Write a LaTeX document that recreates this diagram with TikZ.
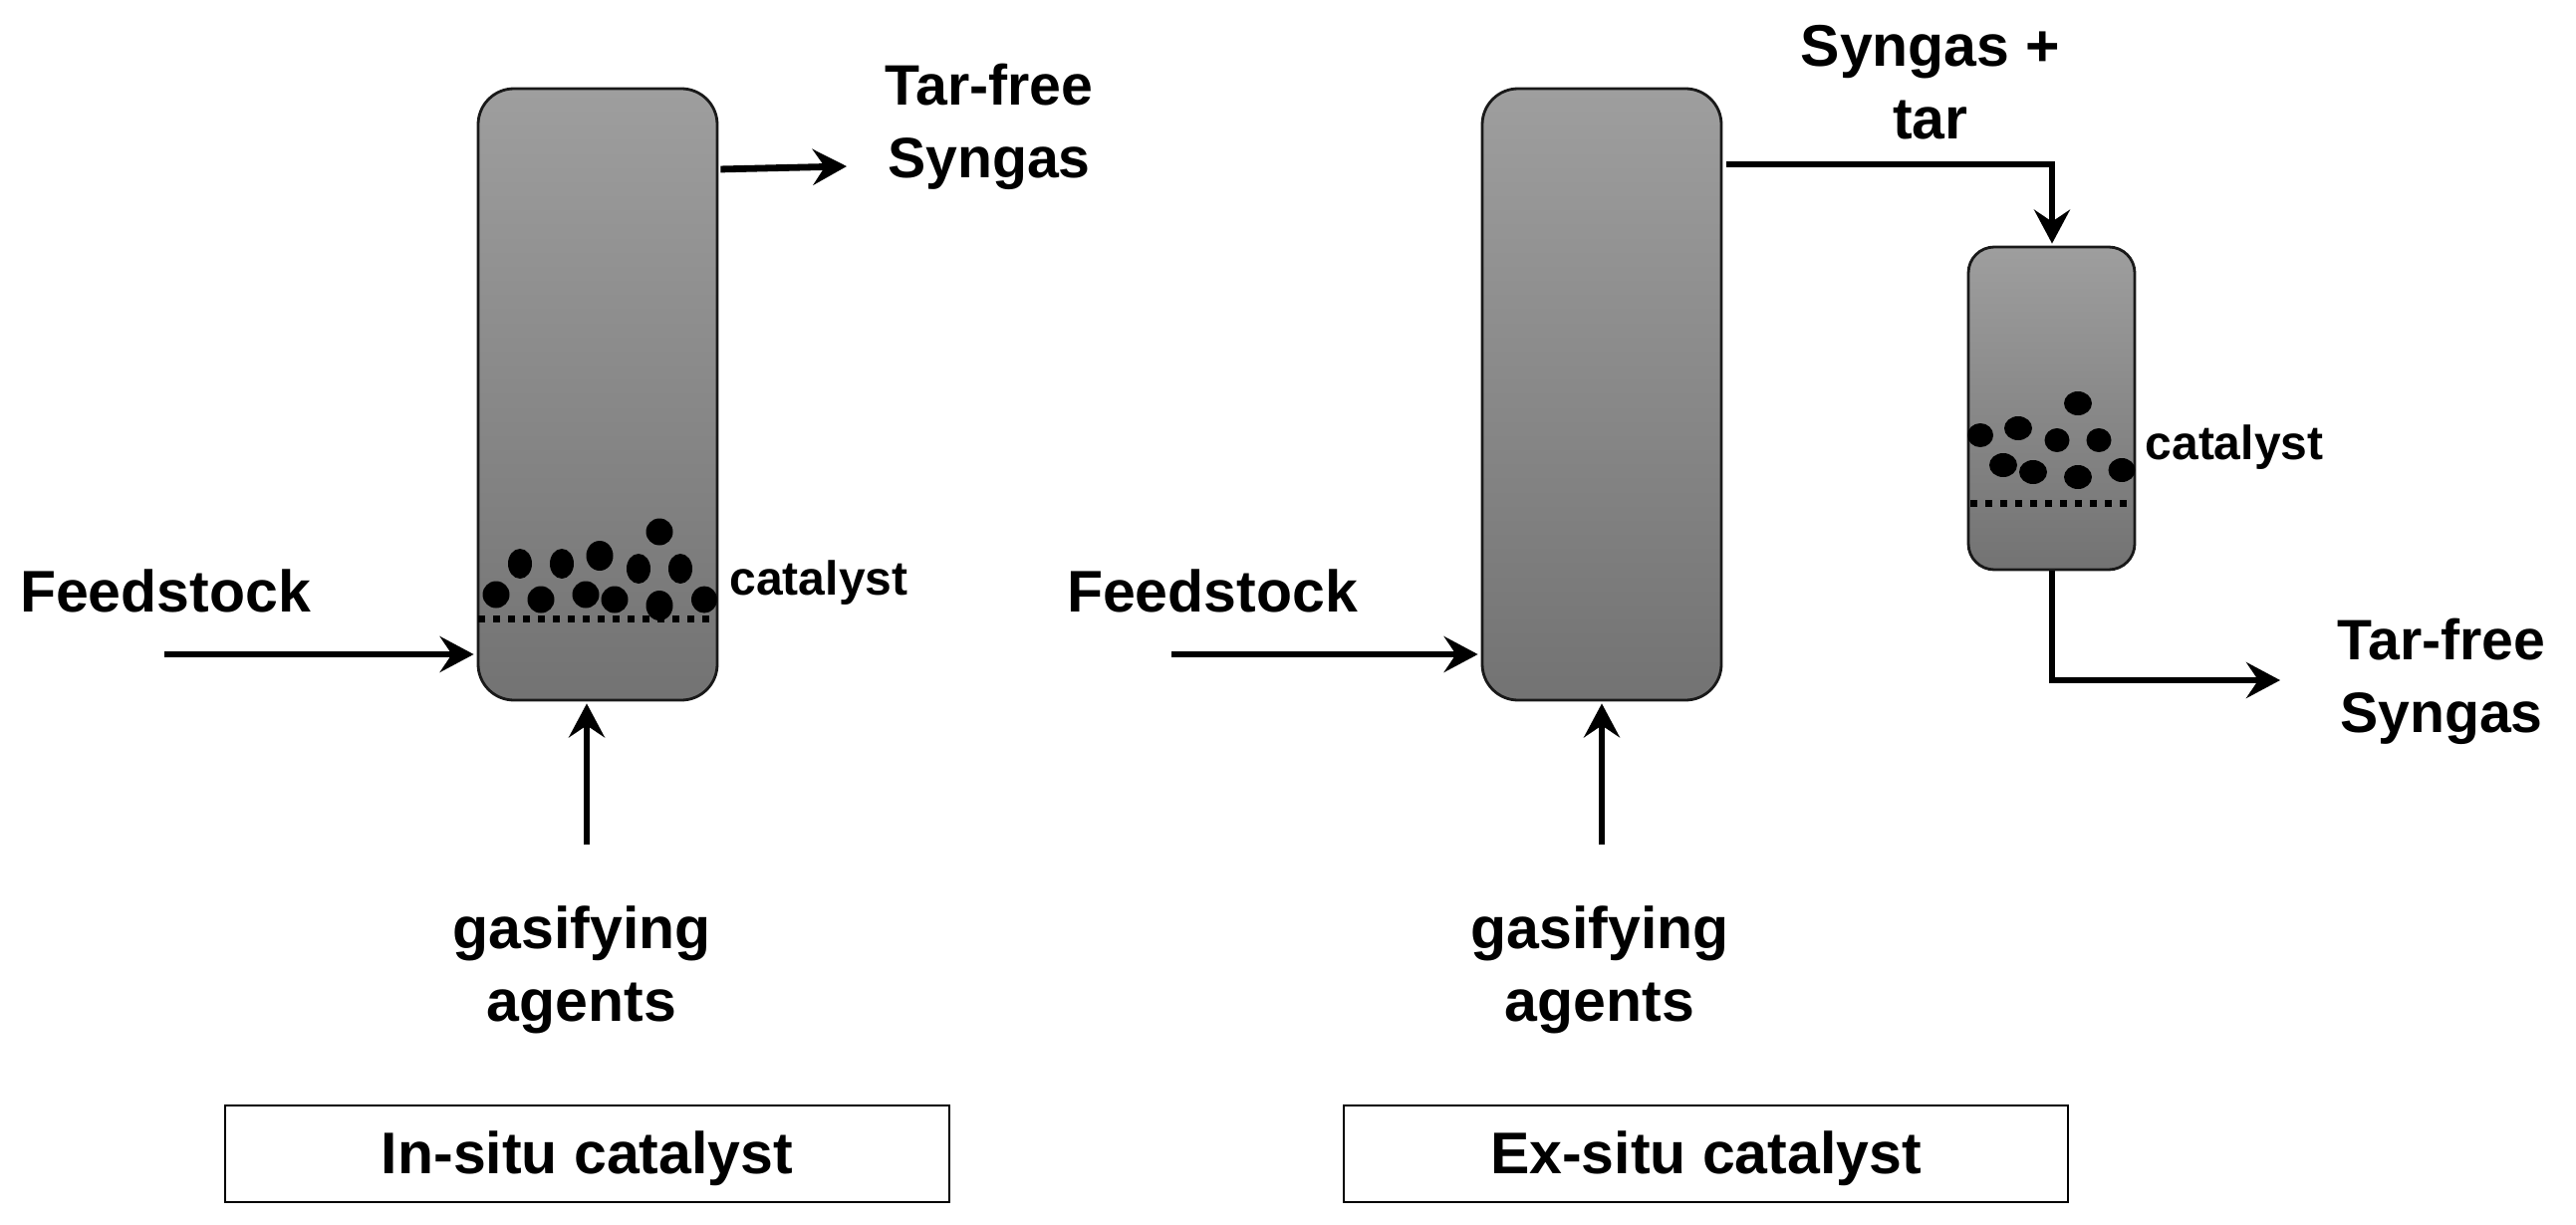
\documentclass[tikz,border=0pt]{standalone}
\usepackage{fontspec}
\setmainfont{Liberation Sans}
\usetikzlibrary{arrows.meta,calc}
\tikzset{
  x=0.5pt,y=-0.5pt,
  vessel/.style={draw=black!90,line width=1.4pt,rounded corners=#1,top color=black!38,bottom color=black!55,inner sep=0pt},
  vessel/.default=18pt,
  arr/.style={line width=3.4pt,-{Stealth[length=17pt,width=18pt,inset=6pt]}},
  lab/.style={font=\fontsize{29.5}{36.5}\selectfont\bfseries,align=center,inner sep=0pt},
  tarlab/.style={font=\fontsize{28.6}{36.5}\selectfont\bfseries,align=center,inner sep=0pt},
  cat/.style={font=\fontsize{24}{29}\selectfont\bfseries,inner sep=0pt},
  capbox/.style={draw=black,line width=0.8pt,minimum width=363.5pt,minimum height=48.5pt,inner sep=0pt},
  captxt/.style={font=\fontsize{29.5}{36}\selectfont\bfseries,inner sep=0pt},
  bedline/.style={line width=3.5pt,dash pattern=on 3.5pt off 4pt},
  grain/.style={fill=black}
}
\begin{document}
\begin{tikzpicture}
\useasboundingbox (0,0) rectangle (2586,1230);
% vessels
\node[vessel,minimum width=120pt,minimum height=307pt] (v1) at (600,396) {};
\node[vessel,minimum width=120pt,minimum height=307pt] (v2) at (1608,396) {};
\node[vessel=13pt,minimum width=83.5pt,minimum height=162pt] (v3) at (2059.5,410) {};
% in-situ bed
\foreach \x/\y/\a/\b in {498/597/13.5/13.5,522/566/12/15,543/602/13.5/13.5,564/566/12/15,588/597/13.5/13.5,602/558/13.5/15,617/602/13.5/13.5,641/571/12/15,662/534/13.5/13.5,662/608/13.5/15,683/571/12/15,707/602/13/13.5}
  \fill[grain] (\x,\y) ellipse [x radius=\a*0.5pt,y radius=\b*0.5pt];
\draw[bedline] (480,621) -- (716,621);
% ex-situ bed
\foreach \x/\y/\a/\b in {1988/437/13/12,2026/430/14/12,2065/442/12.5/12,2086/405/14/12,2107/442/12.5/12,2011/467/14/12,2041/474/14/12,2086/479/14/12,2130/472/13.5/12}
  \fill[grain] (\x,\y) ellipse [x radius=\a*0.5pt,y radius=\b*0.5pt];
\draw[bedline] (1978,505) -- (2136,505);
% labels
\node[tarlab] (t1) at (993,127) {Tar-free\\Syngas};
\node[lab] (f1) at (166,593) {Feedstock};
\node[cat] (c1) at (822,585) {catalyst};
\node[lab] (g1) at (584,974) {gasifying\\agents};
\node[capbox] (b1) at (589.5,1158.5) {};
\node[captxt] (bt1) at (589.5,1163) {In-situ catalyst};
\node[lab] (s2) at (1938,83) {Syngas +\\tar};
\node[lab] (f2) at (1217,593) {Feedstock};
\node[cat] (c2) at (2243,449) {catalyst};
\node[lab] (g2) at (1606,974) {gasifying\\agents};
\node[tarlab] (t2) at (2451,684) {Tar-free\\Syngas};
\node[capbox] (b2) at (1712.5,1158.5) {};
\node[captxt] (bt2) at (1712.5,1163) {Ex-situ catalyst};
% free ends
\coordinate (e1) at (850,167);
\coordinate (e2) at (165,657);
\coordinate (e3) at (589,848);
\coordinate (e4) at (1176,657);
\coordinate (e5) at (1608,848);
\coordinate (e6) at (2289,683);
\coordinate (k1) at (2060,165);
\coordinate (k2) at (2060,683);
% connectors
\draw[arr,shorten <=1pt] ($(v1.east|-e1)+(0,3)$) -- (e1);
\draw[arr,shorten >=1.5pt] (e2) -- (e2-|v1.west);
\draw[arr,shorten >=1pt] (e3) -- (e3|-v1.south);
\draw[arr,shorten >=1.5pt] (e4) -- (e4-|v2.west);
\draw[arr,shorten >=1pt] (e5) -- (e5|-v2.south);
\draw[arr,shorten <=2pt,shorten >=1pt] (k1-|v2.east) -- (k1) -- (k1|-v3.north);
\draw[arr] (k2|-v3.south) -- (k2) -- (e6);
\end{tikzpicture}
\end{document}
